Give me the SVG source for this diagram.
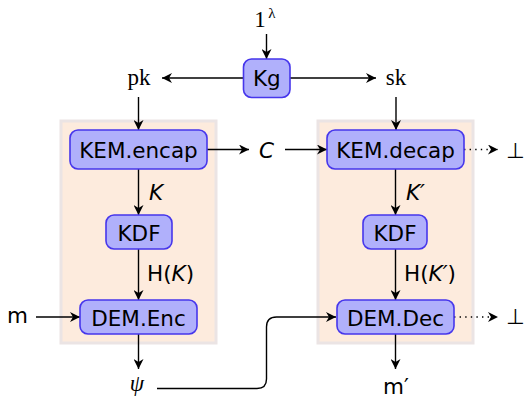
<svg xmlns="http://www.w3.org/2000/svg" width="526" height="399" viewBox="0 0 526 399">
<style>
.bg{fill:#fdebdd;stroke:#ebe4e4;stroke-width:3}
.box{fill:#b0b0fb;stroke:#4636ec;stroke-width:1.6}
.t{font-family:"DejaVu Sans",sans-serif;font-size:21.5px;fill:#000;text-anchor:middle}
.s{font-family:"DejaVu Sans",sans-serif;font-size:21.5px;fill:#000}
.i{font-style:italic}
.r{font-family:"Liberation Serif","DejaVu Serif",serif;font-size:23px;fill:#000;text-anchor:middle}
.c{fill:none;stroke:#000;stroke-width:1.4}
.d{stroke-dasharray:1.4 4.2}
</style>
<defs>
<marker id="ah" viewBox="0 0 10 10" refX="10" refY="5" markerWidth="11" markerHeight="10" markerUnits="userSpaceOnUse" orient="auto">
<path d="M0,0 L10,5 L0,10 L3,5 z" fill="#000"/>
</marker>
</defs>
<g id="panels">
<rect class="bg" x="61" y="121" width="155" height="222"/>
<rect class="bg" x="318" y="121" width="155" height="222"/>
</g>
<g id="connectors">
<line class="c" x1="266.5" y1="34" x2="266.5" y2="59" marker-end="url(#ah)"/>
<line class="c" x1="243" y1="78" x2="162" y2="78" marker-end="url(#ah)"/>
<line class="c" x1="290" y1="78" x2="376" y2="78" marker-end="url(#ah)"/>
<line class="c" x1="138.5" y1="97" x2="138.5" y2="130" marker-end="url(#ah)"/>
<line class="c" x1="396" y1="97" x2="396" y2="130" marker-end="url(#ah)"/>
<line class="c" x1="207" y1="149.5" x2="249" y2="149.5" marker-end="url(#ah)"/>
<line class="c" x1="285" y1="149.5" x2="327" y2="149.5" marker-end="url(#ah)"/>
<line class="c d" x1="464" y1="149.5" x2="498" y2="149.5" marker-end="url(#ah)"/>
<line class="c" x1="138.5" y1="169" x2="138.5" y2="215" marker-end="url(#ah)"/>
<line class="c" x1="138.5" y1="249" x2="138.5" y2="300" marker-end="url(#ah)"/>
<line class="c" x1="36" y1="317" x2="80" y2="317" marker-end="url(#ah)"/>
<line class="c" x1="138.5" y1="334" x2="138.5" y2="369" marker-end="url(#ah)"/>
<path class="c" d="M157,388.5 H257 Q266.5,388.5 266.5,379 V327 Q266.5,317 276.5,317 H336" marker-end="url(#ah)"/>
<line class="c" x1="395.5" y1="169" x2="395.5" y2="215" marker-end="url(#ah)"/>
<line class="c" x1="395.5" y1="249" x2="395.5" y2="300" marker-end="url(#ah)"/>
<line class="c d" x1="454" y1="317" x2="498" y2="317" marker-end="url(#ah)"/>
<line class="c" x1="395.5" y1="334" x2="395.5" y2="369" marker-end="url(#ah)"/>
</g>
<g id="Kg">
<rect class="box" x="243.5" y="59" width="46.5" height="38.5" rx="8"/>
<text class="t" x="266.8" y="86">Kg</text>
</g>
<g id="KEMencap">
<rect class="box" x="70" y="130" width="137" height="39" rx="8"/>
<text class="t" x="138.5" y="157.5">KEM.encap</text>
</g>
<g id="KDF1">
<rect class="box" x="106" y="215" width="66" height="34" rx="8"/>
<text class="t" x="139" y="240.5">KDF</text>
</g>
<g id="DEMEnc">
<rect class="box" x="80" y="300" width="117" height="34" rx="8"/>
<text class="t" x="138.5" y="325.5">DEM.Enc</text>
</g>
<g id="KEMdecap">
<rect class="box" x="327" y="130" width="137" height="39" rx="8"/>
<text class="t" x="395.5" y="157.5">KEM.decap</text>
</g>
<g id="KDF2">
<rect class="box" x="363" y="215" width="64" height="34" rx="8"/>
<text class="t" x="395" y="240.5">KDF</text>
</g>
<g id="DEMDec">
<rect class="box" x="337" y="300" width="117" height="34" rx="8"/>
<text class="t" x="395.5" y="325.5">DEM.Dec</text>
</g>
<g id="labels">
<text class="r" x="260" y="27">1</text>
<text class="r" x="272" y="18" style="font-size:15px">λ</text>
<text class="r" x="139" y="85">pk</text>
<text class="r" x="396" y="85">sk</text>
<text class="s i" x="259" y="157.5">C</text>
<text class="s" x="506" y="157.5">⊥</text>
<text class="s" x="506" y="324">⊥</text>
<text class="s i" x="149" y="200">K</text>
<text class="s i" x="406" y="200">K′</text>
<text class="s" x="147" y="281">H(<tspan class="i">K</tspan>)</text>
<text class="s" x="404" y="281">H(<tspan class="i">K′</tspan>)</text>
<text class="s" x="7" y="323">m</text>
<text class="r i" x="137" y="391">ψ</text>
<text class="s" x="383" y="394">m′</text>
</g>
</svg>
